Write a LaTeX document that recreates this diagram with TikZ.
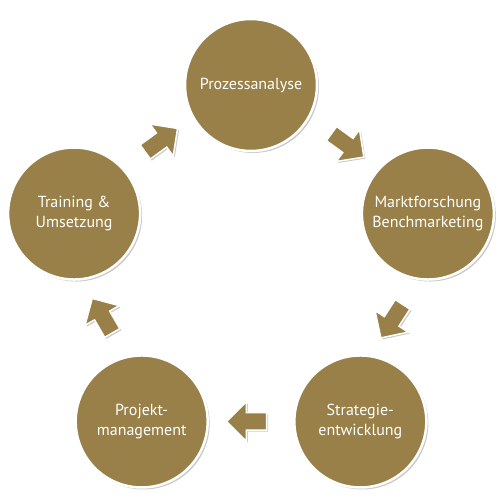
\documentclass[tikz,border=0pt]{standalone}
\usepackage{fontspec}
\setmainfont{PT Sans}
\usepackage{xcolor}
\definecolor{gold}{RGB}{153,128,72}
\usetikzlibrary{shapes.arrows,shadows,calc}
\tikzset{
  stage/.style={circle,draw=white,line width=2.5pt,fill=gold,minimum size=132pt,inner sep=0pt,
    text=white,align=center,font=\fontsize{16}{20}\selectfont,
    drop shadow={shadow xshift=2pt,shadow yshift=-2pt,opacity=0.3,fill=black!70}},
  flow/.style={single arrow,draw=white,line width=1.5pt,fill=gold,minimum height=40pt,
    inner sep=8pt,single arrow head extend=11pt,sloped,allow upside down,
    drop shadow={shadow xshift=1.5pt,shadow yshift=-1.5pt,opacity=0.3,fill=black!70}},
}
\begin{document}
\begin{tikzpicture}[x=1pt,y=1pt]
  \useasboundingbox (0,0) rectangle (500,500);
  \coordinate (mid) at (251,229);
  % five stages on a pentagon
  \node (proz)  [stage] at ($(mid)+(90:186)$)  {Prozessanalyse};
  \node (markt) [stage] at ($(mid)+(18:186)$)  {Marktforschung\\Benchmarketing};
  \node (strat) [stage] at ($(mid)+(-54:186)$) {Strategie-\\entwicklung};
  \node (proj)  [stage] at ($(mid)+(-126:186)$){Projekt-\\management};
  \node (train) [stage] at ($(mid)+(162:186)$) {Training \&\\Umsetzung};
  % block arrows between them
  \path (train) -- node (a1) [flow,yshift=8pt] {} (proz);
  \path (proz)  -- node (a2) [flow,yshift=8pt] {} (markt);
  \path (markt) -- node (a3) [flow,rotate=-15] {} (strat);
  \path (strat) -- node (a4) [flow] {} (proj);
  \path (proj)  -- node (a5) [flow,rotate=12,yshift=4pt] {} (train);
\end{tikzpicture}
\end{document}
